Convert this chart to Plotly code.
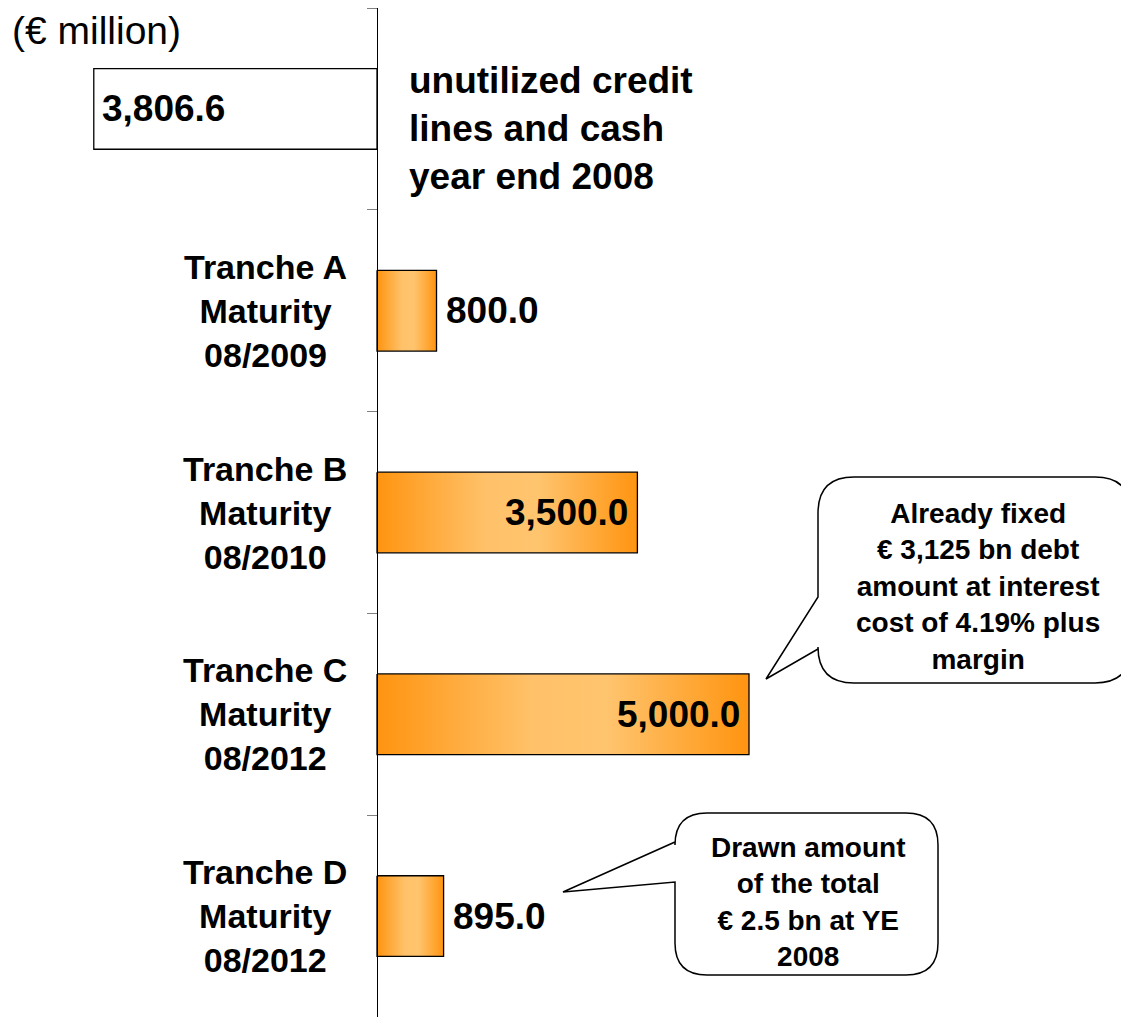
import plotly.graph_objects as go

# ---------------- data ----------------
row_labels = ["", "Tranche A<br>Maturity<br>08/2009", "Tranche B<br>Maturity<br>08/2010",
              "Tranche C<br>Maturity<br>08/2012", "Tranche D<br>Maturity<br>08/2012"]
# first row (unutilized credit lines and cash) is drawn to the left of the axis
values = [-3806.6, 800.0, 3500.0, 5000.0, 895.0]
value_labels = ["3,806.6", "800.0", "3,500.0", "5,000.0", "895.0"]
first_row_note = "unutilized credit<br>lines and cash<br>year end 2008"
unit_note = "(€ million)"
callout_c = "Already fixed<br>€ 3,125 bn debt<br>amount at interest<br>cost of 4.19% plus<br>margin"
callout_d = "Drawn amount<br>of the total<br>€ 2.5 bn at YE<br>2008"

# ---------------- layout constants ----------------
OFF = 8                      # page body margin offset
W, H = 1129 - OFF, 1018 - OFF
MT, MB = 0, 1
AXIS_PX = 377 - OFF
UNITS_PER_PX = 5000.0 / 372.0
XR = [-AXIS_PX * UNITS_PER_PX, (W - AXIS_PX) * UNITS_PER_PX]
BAR_HALF = 0.2
FONT = "Liberation Sans, Arial, Helvetica, sans-serif"


def px(x):
    """reference-page pixel x -> paper"""
    return (x - OFF) / W


def py(y):
    """reference-page pixel y -> paper"""
    return 1 - (y - OFF - MT) / (H - MT - MB)


fig = go.Figure()

grad = [[0, "#FF9410"], [0.42, "#FFC26A"], [0.62, "#FFC46E"], [1, "#FF9410"]]

for i, v in enumerate(values):
    xs = [0, v, v, 0, 0]
    ys = [i - BAR_HALF, i - BAR_HALF, i + BAR_HALF, i + BAR_HALF, i - BAR_HALF]
    if v < 0:
        fig.add_trace(go.Scatter(x=xs, y=ys, mode="lines", fill="toself",
                                 fillcolor="white", line=dict(color="black", width=1.3),
                                 hoverinfo="skip"))
    else:
        fig.add_trace(go.Scatter(x=xs, y=ys, mode="lines", fill="toself",
                                 fillgradient=dict(type="horizontal", colorscale=grad,
                                                   start=0, stop=v),
                                 line=dict(color="black", width=1.3),
                                 hoverinfo="skip"))

annotations = []
VAL_FONT = dict(size=37, color="black", family=FONT)
for i, (v, lab) in enumerate(zip(values, value_labels)):
    if v < 0:
        annotations.append(dict(x=v, y=i, xref="x", yref="y", text=f"<b>{lab}</b>",
                                xanchor="left", xshift=6, showarrow=False, font=VAL_FONT))
    elif v >= 3000:
        annotations.append(dict(x=v, y=i, xref="x", yref="y", text=f"<b>{lab}</b>",
                                xanchor="right", xshift=-7, showarrow=False, font=VAL_FONT))
    else:
        annotations.append(dict(x=v, y=i, xref="x", yref="y", text=f"<b>{lab}</b>",
                                xanchor="left", xshift=7, showarrow=False, font=VAL_FONT))

for i, lab in enumerate(row_labels):
    if lab:
        annotations.append(dict(x=px(265), y=i, xref="paper", yref="y",
                                text=f"<b>{lab}</b>", xanchor="center", yanchor="middle",
                                align="center", showarrow=False,
                                font=dict(size=34, color="black", family=FONT)))

annotations.append(dict(x=0, y=0, xref="x", yref="y", text=f"<b>{first_row_note}</b>",
                        xanchor="left", yanchor="middle", align="left", xshift=30, yshift=-20,
                        showarrow=False, font=dict(size=37, color="black", family=FONT)))
annotations.append(dict(x=px(10), y=py(30), xref="paper", yref="paper", text=unit_note,
                        xanchor="left", yanchor="middle", showarrow=False,
                        font=dict(size=39, color="black", family=FONT)))

CALL_FONT = dict(size=28, color="black", family=FONT)
annotations.append(dict(x=px(978), y=py(586), xref="paper", yref="paper",
                        text=f"<b>{callout_c}</b>", xanchor="center", yanchor="middle",
                        align="center", showarrow=False, font=CALL_FONT))
annotations.append(dict(x=px(808), y=py(902), xref="paper", yref="paper",
                        text=f"<b>{callout_d}</b>", xanchor="center", yanchor="middle",
                        align="center", showarrow=False, font=CALL_FONT))


def callout_path(x0, y0, x1, y1, r, ya, yb, tx, ty):
    P = lambda x, y: f"{px(x):.5f},{py(y):.5f}"
    return (f"M {P(x0 + r, y0)} L {P(x1 - r, y0)} Q {P(x1, y0)} {P(x1, y0 + r)} "
            f"L {P(x1, y1 - r)} Q {P(x1, y1)} {P(x1 - r, y1)} "
            f"L {P(x0 + r, y1)} Q {P(x0, y1)} {P(x0, y1 - r)} "
            f"L {P(x0, yb)} L {P(tx, ty)} L {P(x0, ya)} "
            f"L {P(x0, y0 + r)} Q {P(x0, y0)} {P(x0 + r, y0)} Z")


shapes = [
    dict(type="path", xref="paper", yref="paper",
         path=callout_path(818, 477, 1131, 683, 36, 597, 649, 766, 679),
         line=dict(color="black", width=1.5), fillcolor="white", layer="below"),
    dict(type="path", xref="paper", yref="paper",
         path=callout_path(675, 813, 938, 975, 32, 842, 882, 563, 892),
         line=dict(color="black", width=1.5), fillcolor="white", layer="below"),
]

fig.update_layout(
    width=W, height=H,
    margin=dict(l=0, r=0, t=MT, b=MB, pad=0),
    paper_bgcolor="white", plot_bgcolor="white",
    showlegend=False,
    xaxis=dict(range=XR, visible=False, fixedrange=True),
    yaxis=dict(range=[4.5, -0.5], anchor="free", position=AXIS_PX / W,
               tickmode="array", tickvals=[-0.5, 0.5, 1.5, 2.5, 3.5],
               ticktext=[""] * 5, ticks="outside", ticklen=10, tickwidth=1,
               tickcolor="#808080", showline=True, linecolor="black", linewidth=1,
               showgrid=False, zeroline=False, fixedrange=True),
    annotations=annotations,
    shapes=shapes,
    font=dict(family=FONT),
)

fig.write_html("out.html")
